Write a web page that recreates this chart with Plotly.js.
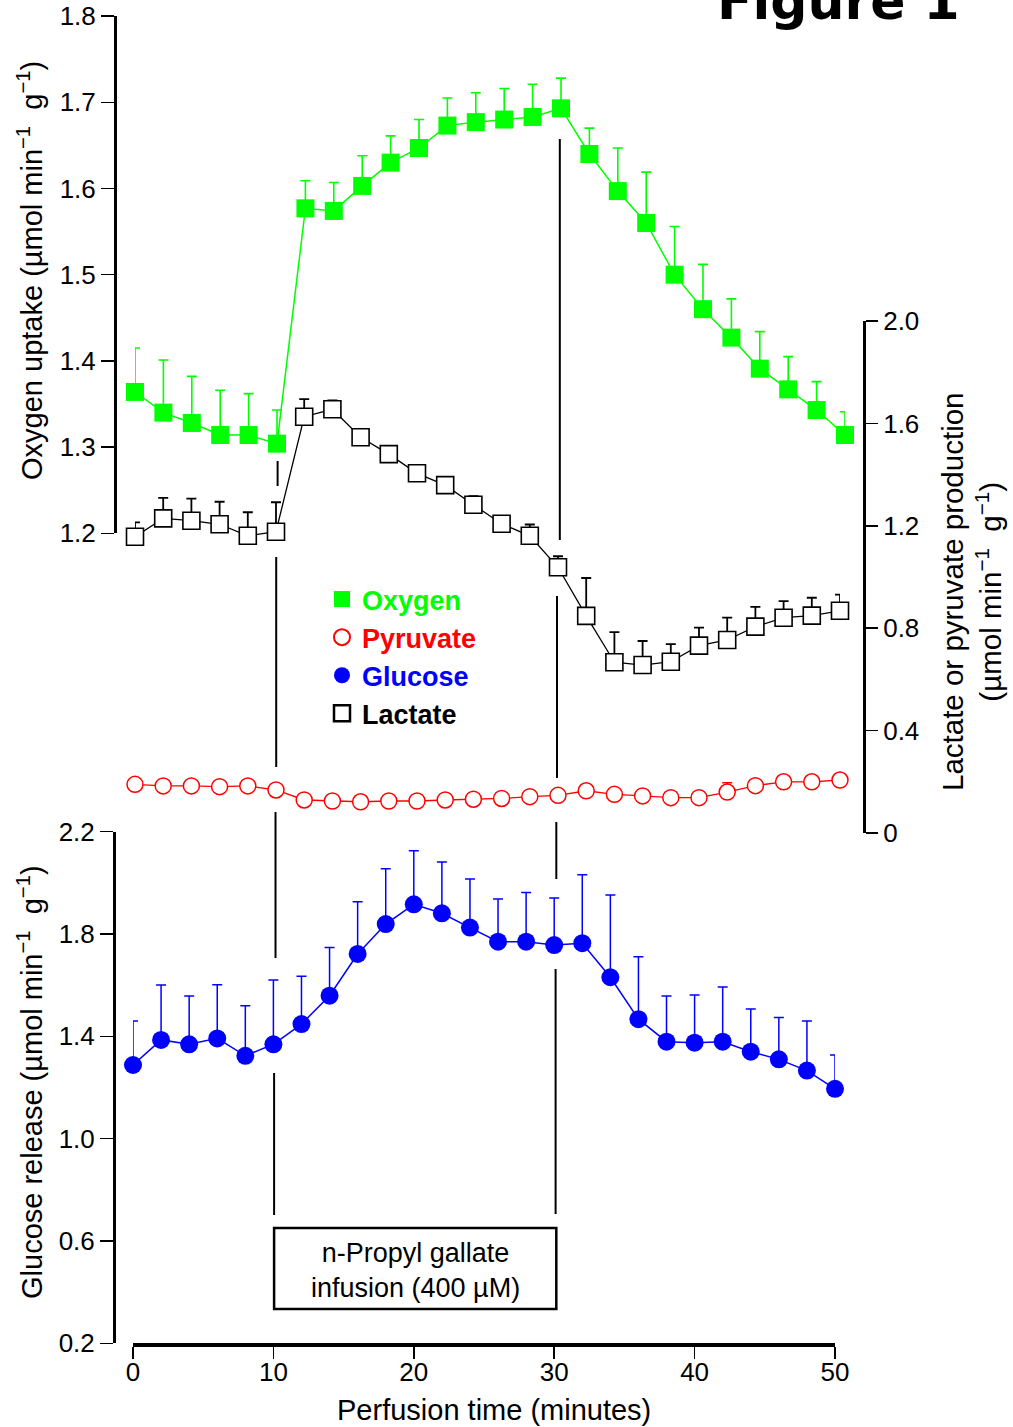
<!DOCTYPE html>
<html>
<head>
<meta charset="utf-8">
<script src="https://cdn.plot.ly/plotly-3.0.1.min.js"></script>
<style>html,body{margin:0;padding:0;background:#fff;}#chart{width:1013px;height:1427px;}</style>
</head>
<body>
<div id="chart"></div>
<script>
// ---- data ----
const time = [0,2,4,6,8,10,12,14,16,18,20,22,24,26,28,30,32,34,36,38,40,42,44,46,48,50];

const oxygen   = [1.364,1.340,1.328,1.314,1.314,1.304,1.577,1.574,1.603,1.630,1.647,1.673,1.677,1.680,1.683,1.693,1.640,1.597,1.560,1.500,1.460,1.427,1.391,1.367,1.343,1.314];
const oxygenSE = [0.051,0.061,0.054,0.052,0.048,0.039,0.032,0.033,0.035,0.031,0.033,0.032,0.034,0.036,0.038,0.035,0.030,0.050,0.059,0.056,0.052,0.045,0.043,0.038,0.033,0.027];

const lactate   = [1.157,1.229,1.220,1.206,1.161,1.177,1.626,1.655,1.546,1.480,1.405,1.359,1.282,1.208,1.161,1.038,0.848,0.667,0.656,0.669,0.732,0.754,0.806,0.841,0.849,0.868];
const lactateSE = [0.056,0.080,0.086,0.088,0.092,0.115,0.069,0.035,0,0,0,0,0.034,0,0.044,0.043,0.148,0.118,0.094,0.069,0.070,0.087,0.077,0.065,0.070,0.063];

const pyruvate   = [0.190,0.184,0.184,0.181,0.184,0.168,0.129,0.125,0.122,0.125,0.125,0.129,0.132,0.135,0.142,0.147,0.165,0.151,0.145,0.138,0.138,0.160,0.185,0.200,0.200,0.207];
const pyruvateSE = [0,0,0,0,0,0,0,0,0,0,0,0,0,0,0,0,0,0,0,0,0,0.036,0,0,0,0];

const glucose   = [1.288,1.386,1.369,1.392,1.324,1.369,1.448,1.559,1.722,1.839,1.916,1.881,1.825,1.770,1.770,1.757,1.764,1.631,1.467,1.379,1.375,1.379,1.340,1.310,1.266,1.195];
const glucoseSE = [0.172,0.215,0.189,0.210,0.196,0.251,0.187,0.188,0.204,0.216,0.210,0.201,0.190,0.167,0.192,0.184,0.268,0.322,0.244,0.179,0.187,0.214,0.167,0.164,0.194,0.132];

const xTicks = [0,10,20,30,40,50];
const oxyTicks = [1.2,1.3,1.4,1.5,1.6,1.7,1.8];
const oxyTickText = ['1.2','1.3','1.4','1.5','1.6','1.7','1.8'];
const lacTicks = [0,0.4,0.8,1.2,1.6,2.0];
const lacTickText = ['0','0.4','0.8','1.2','1.6','2.0'];
const gluTicks = [0.2,0.6,1.0,1.4,1.8,2.2];
const gluTickText = ['0.2','0.6','1.0','1.4','1.8','2.2'];

const seriesNames = ['Oxygen','Pyruvate','Glucose','Lactate'];
const titleOxy = 'Oxygen uptake (\u00b5mol min<sup>\u22121</sup>  g<sup>\u22121</sup>)';
const titleGlu = 'Glucose release (\u00b5mol min<sup>\u22121</sup>  g<sup>\u22121</sup>)';
const titleLac = 'Lactate or pyruvate production<br>(\u00b5mol min<sup>\u22121</sup>  g<sup>\u22121</sup>)';
const xTitle = 'Perfusion time (minutes)';
const boxText = 'n-Propyl gallate<br>infusion (400 \u00b5M)';
const figTitle = 'Figure 1';

// ---- layout helpers ----
const W = 1013, H = 1427;
const xp = px => px / W;
const yp = py => 1 - py / H;
const FONT = 'Liberation Sans, Arial, Helvetica, sans-serif';
const GREEN = '#00ff00', RED = '#ff0000', BLUE = '#0000ff', BLACK = '#000000';

function errs(arr, color, thick, w) {
  return {type:'data', array: arr, arrayminus: arr.map(()=>0), symmetric:false,
          visible:true, color: color, thickness: thick, width: w};
}

const traces = [
  {x: time, y: lactate, xaxis:'x3', yaxis:'y2', mode:'lines+markers', showlegend:false, cliponaxis:false,
   line:{color:BLACK, width:1.3},
   marker:{symbol:'square', size:17, color:'#ffffff', line:{color:BLACK, width:1.6}},
   error_y: errs(lactateSE, BLACK, 1.8, 5)},
  {x: time, y: pyruvate, xaxis:'x3', yaxis:'y2', mode:'lines+markers', showlegend:false, cliponaxis:false,
   line:{color:RED, width:1.3},
   marker:{symbol:'circle', size:16, color:'#ffffff', line:{color:RED, width:1.5}},
   error_y: errs(pyruvateSE, RED, 1.5, 5)},
  {x: time, y: oxygen, xaxis:'x2', yaxis:'y', mode:'lines+markers', showlegend:false, cliponaxis:false,
   line:{color:GREEN, width:1.5},
   marker:{symbol:'square', size:18, color:GREEN, line:{color:GREEN, width:0}},
   error_y: errs(oxygenSE, GREEN, 1.6, 5)},
  {x: time, y: glucose, xaxis:'x', yaxis:'y3', mode:'lines+markers', showlegend:false, cliponaxis:false,
   line:{color:BLUE, width:1.5},
   marker:{symbol:'circle', size:18, color:BLUE},
   error_y: errs(glucoseSE, BLUE, 1.5, 5)},
  // legend entries (no data)
  {x:[null], y:[null], xaxis:'x', yaxis:'y3', mode:'markers', name:'<b><span style="color:'+GREEN+'">'+seriesNames[0]+'</span></b>',
   marker:{symbol:'square', size:20, color:GREEN}},
  {x:[null], y:[null], xaxis:'x', yaxis:'y3', mode:'markers', name:'<b><span style="color:'+RED+'">'+seriesNames[1]+'</span></b>',
   marker:{symbol:'circle-open', size:18, color:RED, line:{width:2}}},
  {x:[null], y:[null], xaxis:'x', yaxis:'y3', mode:'markers', name:'<b><span style="color:'+BLUE+'">'+seriesNames[2]+'</span></b>',
   marker:{symbol:'circle', size:20, color:BLUE}},
  {x:[null], y:[null], xaxis:'x', yaxis:'y3', mode:'markers', name:'<b><span style="color:'+BLACK+'">'+seriesNames[3]+'</span></b>',
   marker:{symbol:'square-open', size:18, color:BLACK, line:{width:2.5}}}
];

const yCommon = {showline:true, linecolor:BLACK, linewidth:3, ticks:'outside', ticklen:13, tickwidth:1.5,
                 tickcolor:BLACK, showgrid:false, zeroline:false, tickfont:{family:FONT, size:26, color:BLACK},
                 anchor:'free', fixedrange:true};

function vseg(xv, y0, y1) {
  return {type:'line', xref:'x', yref:'paper', x0:xv, x1:xv, y0:yp(y0), y1:yp(y1),
          line:{color:BLACK, width:2}};
}

const layout = {
  width: W, height: H,
  margin: {l:0, r:0, t:0, b:0},
  paper_bgcolor:'#ffffff', plot_bgcolor:'rgba(0,0,0,0)',
  font: {family: FONT, color: BLACK},
  showlegend: true,
  legend: {x: xp(322), y: yp(575), xanchor:'left', yanchor:'top', bgcolor:'rgba(0,0,0,0)',
           font:{family:FONT, size:27, color:BLACK}, itemclick:false, tracegroupgap:0},
  xaxis: {domain:[xp(133), xp(835)], range:[0,50], anchor:'y3', showline:true, linecolor:BLACK, linewidth:4,
          ticks:'outside', ticklen:12, tickwidth:1.5, tickcolor:BLACK, tickvals:xTicks, ticklabelstandoff:-10,
          showgrid:false, zeroline:false, tickfont:{family:FONT, size:26, color:BLACK}, fixedrange:true},
  // the upper panels of the original are drawn on a slightly different time scale
  xaxis2: {domain:[xp(135), xp(845)], range:[0,50], anchor:'y', visible:false, fixedrange:true},
  xaxis3: {domain:[xp(135), xp(840)], range:[0,50], anchor:'y2', visible:false, fixedrange:true},
  yaxis: Object.assign({}, yCommon, {domain:[yp(533.3), yp(16.1)], range:[1.2,1.8], position:xp(115),
          tickvals:oxyTicks, ticktext:oxyTickText}),
  yaxis2: Object.assign({}, yCommon, {domain:[yp(833), yp(321)], range:[0,2.0], position:xp(864), side:'right',
          tickvals:lacTicks, ticktext:lacTickText, ticklen:12}),
  yaxis3: Object.assign({}, yCommon, {domain:[yp(1343.3), yp(831.7)], range:[0.2,2.2], position:xp(114),
          tickvals:gluTicks, ticktext:gluTickText}),
  shapes: [
    vseg(10.3, 461, 486), vseg(10.2, 557, 767), vseg(10.15, 812, 958), vseg(10.05, 1073, 1215),
    vseg(30.4, 139, 540), vseg(30.2, 596, 778), vseg(30.15, 822, 879), vseg(30.1, 969, 1214),
    {type:'rect', xref:'x', yref:'paper', x0:10.05, x1:30.15, y0:yp(1309), y1:yp(1228),
     line:{color:BLACK, width:2.5}, fillcolor:'rgba(0,0,0,0)'}
  ],
  annotations: [
    {text: boxText, xref:'x', yref:'paper', x:20.1, y:yp(1270), xanchor:'center', yanchor:'middle',
     showarrow:false, font:{family:FONT, size:27, color:BLACK}},
    {text: titleOxy, xref:'paper', yref:'paper', x:xp(30), y:yp(271), textangle:-90, xanchor:'center', yanchor:'middle',
     showarrow:false, font:{family:FONT, size:29, color:BLACK}},
    {text: titleGlu, xref:'paper', yref:'paper', x:xp(30), y:yp(1082), textangle:-90, xanchor:'center', yanchor:'middle',
     showarrow:false, font:{family:FONT, size:29, color:BLACK}},
    {text: titleLac, xref:'paper', yref:'paper', x:xp(972), y:yp(592), textangle:-90, xanchor:'center', yanchor:'middle',
     showarrow:false, font:{family:FONT, size:29.5, color:BLACK}},
    {text: xTitle, xref:'paper', yref:'paper', x:xp(494), y:yp(1410), xanchor:'center', yanchor:'middle',
     showarrow:false, font:{family:FONT, size:29, color:BLACK}},
    {text: '<b>'+figTitle+'</b>', xref:'paper', yref:'paper', x:xp(838), y:yp(1), xanchor:'center', yanchor:'middle',
     showarrow:false, font:{family:'Comic Sans MS, DejaVu Sans, sans-serif', size:52, color:BLACK}}
  ]
};

Plotly.newPlot('chart', traces, layout, {staticPlot:true, displayModeBar:false});
</script>
</body>
</html>
